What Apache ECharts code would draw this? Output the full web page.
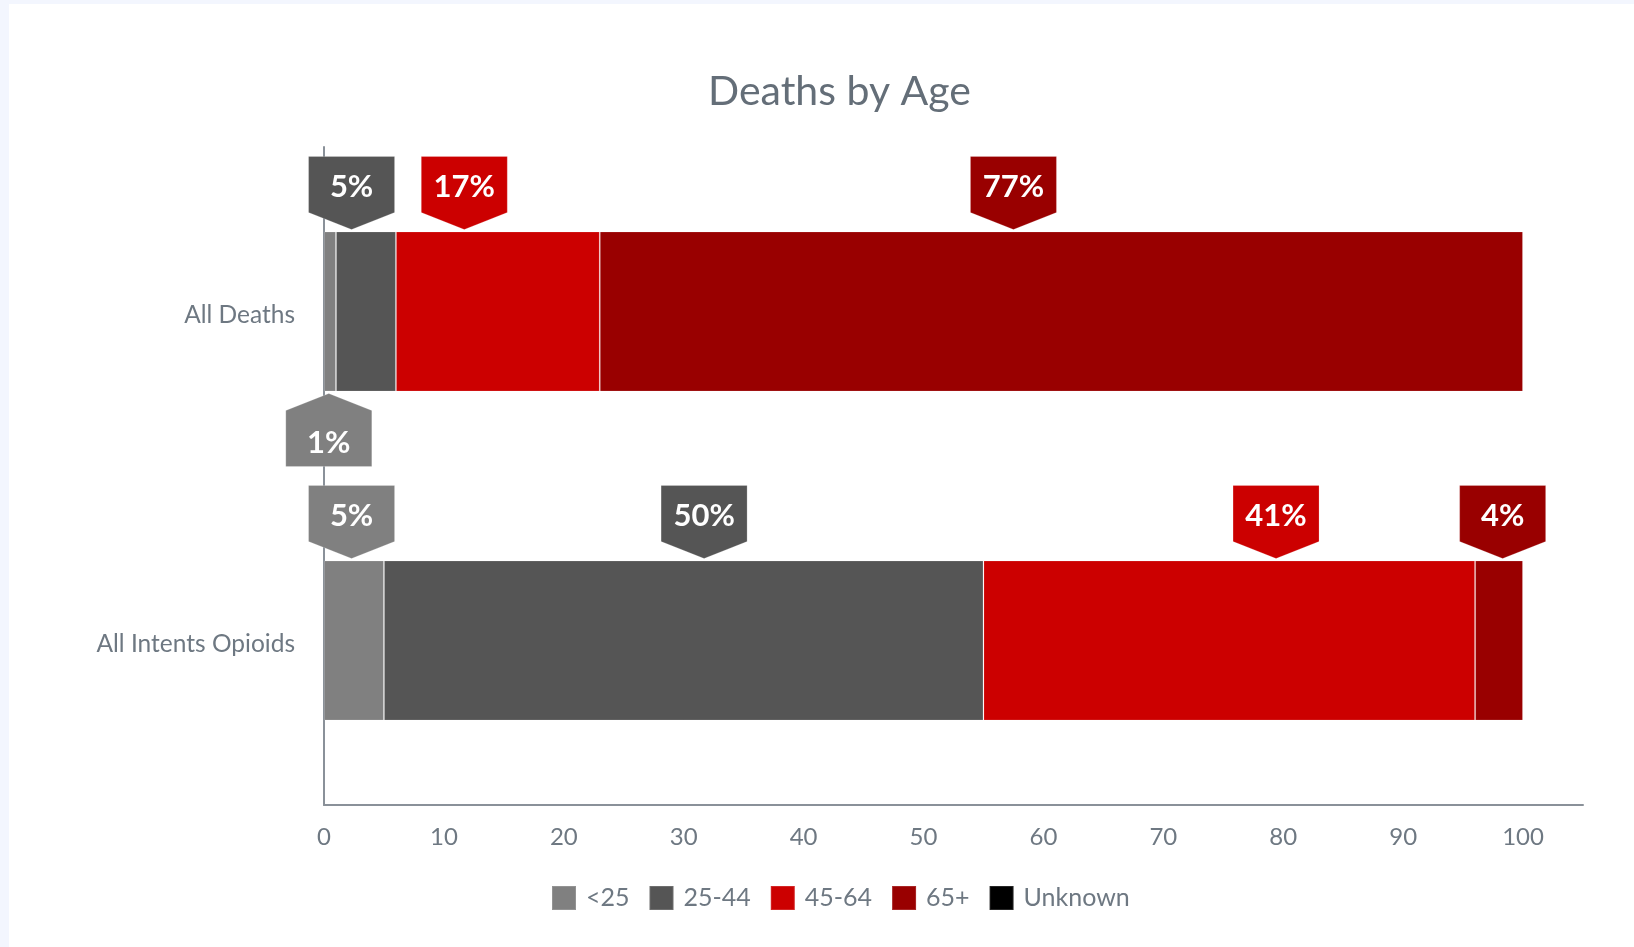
<!DOCTYPE html>
<html>
<head>
<meta charset="utf-8">
<script src="https://cdn.jsdelivr.net/npm/echarts@6/dist/echarts.min.js"></script>
<style>
  html, body { margin: 0; padding: 0; width: 1634px; height: 947px; background: #f3f6fe; overflow: hidden; }
  #panel { position: absolute; left: 9px; top: 4px; right: 0; bottom: 0; background: #ffffff; }
  #chart { position: absolute; left: 0; top: 0; width: 1634px; height: 947px; }
</style>
</head>
<body>
<div id="panel"></div>
<div id="chart"></div>
<script>
// ---- data ----
const categories = ['All Deaths', 'All Intents Opioids'];
const seriesNames = ['<25', '25-44', '45-64', '65+', 'Unknown'];
const under25 = [1, 5];
const age25to44 = [5, 50];
const age45to64 = [17, 41];
const age65plus = [77, 4];
const unknown = [0, 0];
const xTicks = [0, 10, 20, 30, 40, 50, 60, 70, 80, 90, 100];

// callouts: which series, which row, where along the axis it sits, and whether it points down onto the bar or up from below it
const calloutSeries = [1, 2, 3, 0, 0, 1, 2, 3];
const calloutRow    = [0, 0, 0, 0, 1, 1, 1, 1];
const calloutPos    = [2.3, 11.7, 57.5, 0.4, 2.3, 31.7, 79.4, 98.3];
const calloutSide   = ['down', 'down', 'down', 'up', 'down', 'down', 'down', 'down'];

// ---- styles ----
const colors = ['#808080', '#555555', '#cc0000', '#990000', '#000000'];
const FONT = 'Lato, "Open Sans", sans-serif';
const BAR_W = 160;

const seriesValues = [under25, age25to44, age45to64, age65plus, unknown];

const barSeries = seriesNames.map((name, i) => ({
  name: name,
  type: 'bar',
  stack: 'total',
  barWidth: BAR_W,
  data: seriesValues[i],
  itemStyle: { color: colors[i], borderColor: 'rgba(255,255,255,0.15)', borderWidth: 1 },
  emphasis: { disabled: true },
  z: 2
}));

const calloutData = calloutSeries.map((s, k) => [
  calloutPos[k], calloutRow[k], seriesValues[s][calloutRow[k]] + '%', s, calloutSide[k] === 'up' ? 1 : 0
]);

const CW = 86, BODY = 56, ARROW = 17, GAP = 2;

const calloutSeriesObj = {
  type: 'custom',
  coordinateSystem: 'cartesian2d',
  encode: { x: 0, y: 1 },
  data: calloutData,
  z: 5,
  silent: true,
  clip: false,
  renderItem: function (params, api) {
    const p = api.coord([api.value(0), api.value(1)]);
    const cx = p[0];
    const cy = p[1];
    const up = api.value(4) === 1;
    const col = colors[api.value(3)];
    const hw = CW / 2;
    let pts, textY;
    if (!up) {
      const apex = cy - BAR_W / 2 - GAP;
      const top = apex - ARROW - BODY;
      pts = [[cx - hw, top], [cx + hw, top], [cx + hw, top + BODY], [cx, apex], [cx - hw, top + BODY]];
      textY = top + BODY / 2 + 2;
    } else {
      const apex = cy + BAR_W / 2 + GAP;
      const bot = apex + ARROW + BODY;
      pts = [[cx, apex], [cx + hw, apex + ARROW], [cx + hw, bot], [cx - hw, bot], [cx - hw, apex + ARROW]];
      textY = apex + ARROW + BODY / 2 + 4;
    }
    return {
      type: 'group',
      children: [
        { type: 'polygon', shape: { points: pts }, style: { fill: col, stroke: 'rgba(255,255,255,0.2)', lineWidth: 1 } },
        { type: 'text', style: { x: cx, y: textY, text: api.value(2), fill: '#ffffff', font: 'bold 31px ' + FONT, textAlign: 'center', textVerticalAlign: 'middle' } }
      ]
    };
  }
};

const chart = echarts.init(document.getElementById('chart'), null, { renderer: 'canvas' });
chart.setOption({
  backgroundColor: 'transparent',
  animation: false,
  title: {
    text: 'Deaths by Age',
    left: 708,
    top: 71,
    padding: 0,
    textStyle: { fontFamily: FONT, fontSize: 41, fontWeight: 'normal', color: '#646e78' }
  },
  legend: {
    data: seriesNames,
    top: 880,
    left: 546,
    icon: 'rect',
    itemWidth: 24,
    itemHeight: 24,
    itemGap: 19,
    textStyle: { fontFamily: FONT, fontSize: 25, color: '#6e7882', padding: [0, 0, 0, 5] },
    selectedMode: false
  },
  grid: { left: 324, right: 51, top: 147, bottom: 142, containLabel: false },
  xAxis: {
    type: 'value',
    min: 0,
    max: 105,
    interval: 10,
    axisLine: { show: true, lineStyle: { color: '#8a9199', width: 2 } },
    axisTick: { show: false },
    splitLine: { show: false },
    axisLabel: {
      margin: 20,
      fontFamily: FONT,
      fontSize: 24,
      color: '#6e7882',
      showMaxLabel: false,
      formatter: v => (xTicks.indexOf(v) >= 0 ? String(v) : '')
    }
  },
  yAxis: {
    type: 'category',
    data: categories,
    inverse: true,
    axisLine: { show: true, lineStyle: { color: '#8a9199', width: 2 } },
    axisTick: { show: false },
    axisLabel: { margin: 29, fontFamily: FONT, fontSize: 24.5, color: '#6e7882', lineHeight: 36, verticalAlign: 'top', padding: [-14, 0, 0, 0] }
  },
  series: barSeries.concat([calloutSeriesObj])
});
</script>
</body>
</html>
